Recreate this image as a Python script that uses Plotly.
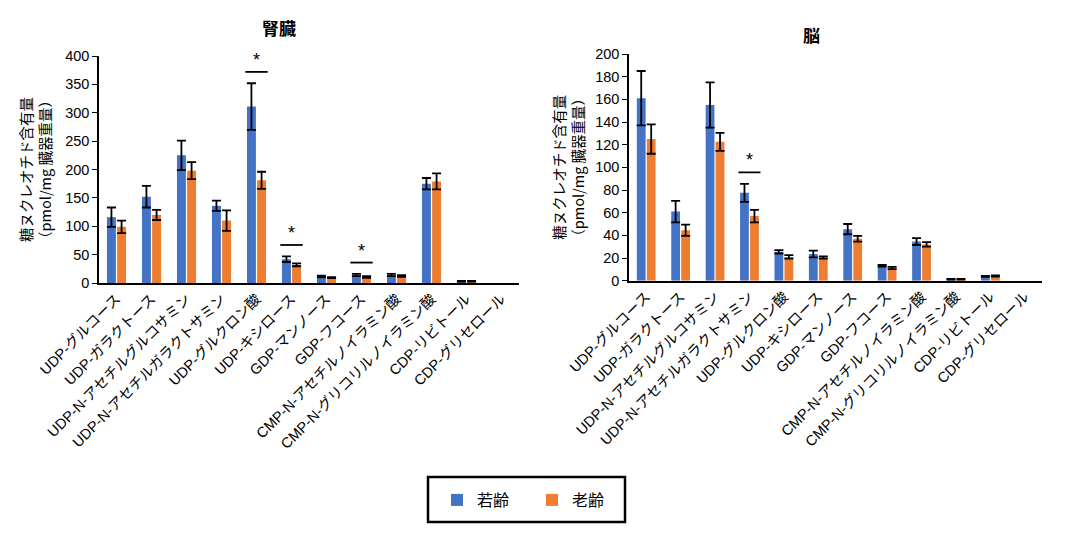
import plotly.graph_objects as go
from plotly.subplots import make_subplots

categories = ["UDP-グルコース", "UDP-ガラクトース", "UDP-N-アセチルグルコサミン",
              "UDP-N-アセチルガラクトサミン", "UDP-グルクロン酸", "UDP-キシロース",
              "GDP-マンノース", "GDP-フコース", "CMP-N-アセチルノイラミン酸",
              "CMP-N-グリコリルノイラミン酸", "CDP-リビトール", "CDP-グリセロール"]
series_names = ["若齢", "老齢"]

kidney_young = [116, 152, 225, 136, 311, 42, 11.5, 14, 14, 175, 3, None]
kidney_young_err = [17, 19, 26, 9, 41, 5, 1.5, 2, 2, 10, 0.5, None]
kidney_old = [99, 120, 198, 110, 181, 32, 9.5, 10.5, 12.5, 179, 3, None]
kidney_old_err = [11, 9, 15, 18, 15, 2.5, 1, 1.5, 1.5, 14, 0.5, None]
kidney_sig = [4, 5, 7]

brain_young = [161, 61, 155, 77.5, 25.5, 23.5, 45.5, 13.2, 34.5, 1.2, 3.8, None]
brain_young_err = [24, 9.5, 20, 8, 1.5, 3, 4.5, 0.8, 3, 0.3, 0.5, None]
brain_old = [125, 44.5, 122.5, 57, 21, 20.5, 37, 11.2, 32, 1.2, 4.1, None]
brain_old_err = [13, 5, 8, 5.5, 1.5, 1, 2.5, 1, 2, 0.3, 0.5, None]
brain_sig = [3]

titles = ["<b>腎臓</b>", "<b>脳</b>"]
ytitle = "糖ヌクレオチド含有量<br>（pmol/mg 臓器重量）"
colors = ["#4472C4", "#ED7D31"]
FONT = "Liberation Sans, Arial, Noto Sans CJK JP, sans-serif"
CJK = "Noto Sans CJK JP, sans-serif"

W, H = 1075, 535
fig = make_subplots(rows=1, cols=2)

panels = [
    (kidney_young, kidney_young_err, kidney_old, kidney_old_err, kidney_sig, 400, 50),
    (brain_young, brain_young_err, brain_old, brain_old_err, brain_sig, 200, 20),
]

for p, (yv, ye, ov, oe, sig, ymax, dt) in enumerate(panels):
    col = p + 1
    for s, (vals, errs) in enumerate([(yv, ye), (ov, oe)]):
        fig.add_trace(go.Bar(
            x=categories, y=vals, name=series_names[s],
            marker=dict(color=colors[s], line=dict(width=0)),
            error_y=dict(type="data", array=errs, visible=True, color="black",
                         thickness=1.8, width=4.5),
            showlegend=(p == 0),
        ), row=1, col=col)
    xref = "x" if p == 0 else "x2"
    yref = "y" if p == 0 else "y2"
    for i in sig:
        top = max(v + e for v, e in [(yv[i], ye[i]), (ov[i], oe[i])])
        h = top + 0.05 * ymax
        fig.add_shape(type="line", xref=xref, yref=yref,
                      x0=i - 0.32, x1=i + 0.32, y0=h, y1=h,
                      line=dict(color="black", width=1.8))
        fig.add_annotation(xref=xref, yref=yref, x=i, y=h, text="*",
                           showarrow=False, yanchor="bottom", yshift=0,
                           font=dict(size=18, color="black", family=FONT))

xdom = [[99 / W, 519 / W], [629 / W, 1042 / W]]
ydom = [[1 - 283 / H, 1 - 56 / H], [1 - 280.7 / H, 1 - 54 / H]]

for p in range(2):
    ymax = panels[p][5]
    dt = panels[p][6]
    xk = "xaxis" if p == 0 else "xaxis2"
    yk = "yaxis" if p == 0 else "yaxis2"
    fig.update_layout(**{
        xk: dict(domain=xdom[p], tickangle=-45, showline=True, linecolor="black",
                 linewidth=1.5, ticks="", showgrid=False, automargin=False,
                 tickfont=dict(size=14.5, color="black", family=FONT),
                 categoryorder="array", categoryarray=categories),
        yk: dict(domain=ydom[p], range=[0, ymax], dtick=dt, showline=True,
                 linecolor="black", linewidth=1.5, ticks="outside", ticklen=5,
                 tickcolor="black", showgrid=False, zeroline=False, automargin=False,
                 tickfont=dict(size=14.5, color="black", family=FONT),
                 title=dict(text=ytitle, standoff=7 if p == 1 else 10,
                            font=dict(size=14.5, color="black", family=CJK))),
    })

# panel titles
fig.add_annotation(xref="paper", yref="paper", x=260 / W, y=1 - 18 / H, text=titles[0],
                   showarrow=False, font=dict(size=17, color="black", family=FONT))
fig.add_annotation(xref="paper", yref="paper", x=822 / W, y=1 - 25 / H, text=titles[1],
                   showarrow=False, font=dict(size=17, color="black", family=FONT))

# legend frame
fig.add_shape(type="rect", xref="paper", yref="paper",
              x0=428 / W, x1=625 / W, y0=1 - 522 / H, y1=1 - 477 / H,
              line=dict(color="black", width=2.5), fillcolor="rgba(0,0,0,0)")

fig.update_layout(
    width=W, height=H, margin=dict(l=0, r=0, t=0, b=0),
    paper_bgcolor="white", plot_bgcolor="white",
    barmode="group", bargap=0.42, bargroupgap=0.12,
    legend=dict(orientation="h", x=437 / W, xanchor="left", y=1 - 500 / H, yanchor="middle",
                borderwidth=0, bgcolor="rgba(0,0,0,0)",
                font=dict(size=16, color="black", family=FONT),
                itemwidth=30, entrywidth=50, traceorder="normal"),
    font=dict(family=FONT),
)

fig.write_html("out.html")
